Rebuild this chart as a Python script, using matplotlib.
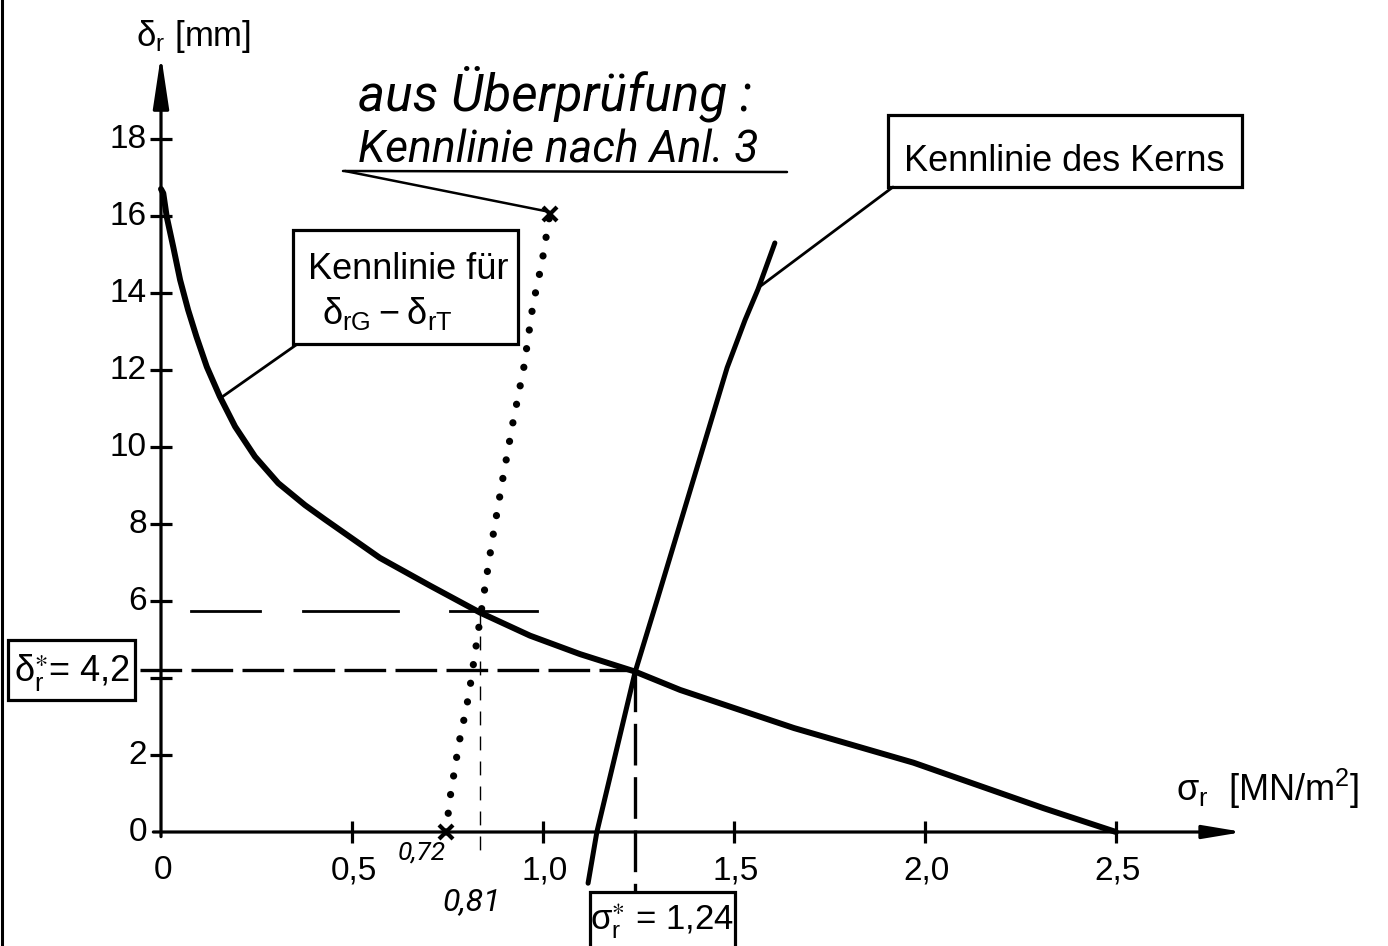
import matplotlib
matplotlib.use("Agg")
import matplotlib.pyplot as plt
from matplotlib import font_manager
from matplotlib.patches import Rectangle
from matplotlib.lines import Line2D

# Kennlinie fuer delta_rG - delta_rT (sigma_r in MN/m2, delta_r in mm)
rel_sigma = [0.0, 0.006, 0.015, 0.032, 0.05, 0.071, 0.093, 0.12, 0.154, 0.194, 0.246,
             0.307, 0.377, 0.429, 0.573, 0.704, 0.835, 0.966, 1.097, 1.24, 1.359,
             1.657, 1.97, 2.31, 2.5]
rel_delta = [16.7, 16.59, 15.98, 15.2, 14.34, 13.56, 12.86, 12.08, 11.31, 10.53, 9.75,
             9.06, 8.49, 8.12, 7.12, 6.4, 5.7, 5.1, 4.62, 4.17, 3.69,
             2.7, 1.8, 0.62, 0.0]

# Kennlinie des Kerns
core_sigma = [1.118, 1.141, 1.241, 1.298, 1.482, 1.529, 1.563, 1.607]
core_delta = [-1.33, 0.0, 4.15, 6.0, 12.06, 13.3, 14.1, 15.3]

# Kennlinie nach Anl. 3 (Ueberpruefung)
check_sigma = [0.746, 0.757, 0.780, 0.800, 0.809, 0.838, 0.859, 0.869, 0.895,
               0.921, 0.950, 0.974, 0.997, 1.018]
check_delta = [0.0, 0.91, 2.31, 3.25, 3.77, 5.71, 7.06, 7.69, 9.19,
               10.62, 12.08, 13.71, 14.78, 16.05]

sigma_star, delta_star = 1.24, 4.2
sigma_check, delta_check = 0.835, 5.75

y_ticks = [0, 2, 4, 6, 8, 10, 12, 14, 16, 18]
y_labels = ["0", "2", "", "6", "8", "10", "12", "14", "16", "18"]
x_ticks = [0.0, 0.5, 1.0, 1.5, 2.0, 2.5]
x_labels = ["0", "0,5", "1,0", "1,5", "2,0", "2,5"]

installed = {f.name for f in font_manager.fontManager.ttflist}
SANS = "Liberation Sans" if "Liberation Sans" in installed else "DejaVu Sans"
HAND = "Roboto" if "Roboto" in installed else "DejaVu Sans"
plt.rcParams["font.family"] = [SANS, "DejaVu Sans"]

# pixel -> data mapping of the drawing
X0, SX = 161, 382
Y0, SY = 832, 38.5


def P(px, py):
    return ((px - X0) / SX, (Y0 - py) / SY)


fig = plt.figure(figsize=(13.88, 9.46), dpi=100)
ax = fig.add_axes([0, 0, 1, 1])
ax.set_xlim(P(0, 0)[0], P(1388, 0)[0])
ax.set_ylim(P(0, 946)[1], P(0, 0)[1])
ax.axis("off")

fig.add_artist(Line2D([0.0018, 0.0018], [0, 1], transform=fig.transFigure, color="k", lw=2.2))

# axes with arrows
ax.annotate("", xy=(0, P(0, 55)[1]), xytext=(0, -0.12),
            arrowprops=dict(arrowstyle="-|>,head_length=1.6,head_width=0.24", lw=2.3,
                            color="k", shrinkA=0, shrinkB=0, mutation_scale=20))
ax.annotate("", xy=(P(1243, 0)[0], 0), xytext=(-0.02, 0),
            arrowprops=dict(arrowstyle="-|>,head_length=1.2,head_width=0.2", lw=2.3,
                            color="k", shrinkA=0, shrinkB=0, mutation_scale=20))

ax.plot([0] * len(y_ticks[1:]), y_ticks[1:], ls="none", marker="_", ms=16, mew=2.3, color="k")
ax.plot(x_ticks[1:], [0] * len(x_ticks[1:]), ls="none", marker="|", ms=16, mew=2.3, color="k")
for v, lab in zip(y_ticks, y_labels):
    ax.text(P(147, 0)[0], v, lab, ha="right", va="center", fontsize=24)
for v, lab in zip(x_ticks, x_labels):
    ax.text(v + 0.005, P(0, 855)[1], lab, ha="center", va="top", fontsize=24)

ax.text(*P(136, 46), r"$\mathregular{\delta_r}$ [mm]", fontsize=25, va="baseline")
ax.text(*P(1176, 801), r"$\mathregular{\sigma_r}$  [MN/m$\mathregular{^2}$]", fontsize=26,
        va="baseline")

# curves
ax.plot(rel_sigma, rel_delta, color="k", lw=4.3, solid_capstyle="round", solid_joinstyle="round")
ax.plot(core_sigma, core_delta, color="k", lw=3.6, solid_capstyle="round")
ax.plot(check_sigma, check_delta, color="k", lw=5.2, ls=(0, (0.01, 2.6)), dash_capstyle="round")
ax.plot([check_sigma[0], check_sigma[-1]], [check_delta[0], check_delta[-1]], ls="none",
        marker="x", ms=10, mew=3, color="k")

# guide lines
ax.plot([P(140, 0)[0], sigma_star], [delta_star, delta_star], color="k", lw=2.4,
        ls=(0, (12.5, 2.8)))
ax.plot([sigma_star, sigma_star], [delta_star, P(0, 893)[1]], color="k", lw=2.4,
        ls=(0, (12.5, 3.5)))
for x1, x2 in [(191, 260), (303, 398), (450, 537)]:
    ax.plot([P(x1, 0)[0], P(x2, 0)[0]], [delta_check, delta_check], color="k", lw=2.0)
ax.plot([sigma_check, sigma_check], [delta_check, P(0, 850)[1]], color="k", lw=1.0,
        ls=(0, (10, 8)))
ax.text(*P(422, 853), "0,72", ha="center", va="center", fontsize=19, family=HAND,
        style="italic")
ax.text(*P(472, 902), "0,81", ha="center", va="center", fontsize=23, family=HAND,
        style="italic")


def box(x1, y1, x2, y2):
    (a, b), (c, d) = P(x1, y2), P(x2, y1)
    ax.add_patch(Rectangle((a, b), c - a, d - b, fill=False, lw=2.3, ec="k"))


def leader(x1, y1, x2, y2, lw=2.0):
    (a, b), (c, d) = P(x1, y1), P(x2, y2)
    ax.plot([a, c], [b, d], color="k", lw=lw, solid_capstyle="round")


# Kennlinie fuer delta_rG - delta_rT
box(293, 230, 518, 344)
ax.text(*P(308, 279), "Kennlinie für", fontsize=26, va="baseline")
ax.text(*P(322, 324), r"$\mathregular{\delta_{rG} - \delta_{rT}}$", fontsize=26,
        va="baseline")
leader(296, 345, 222, 397)

# Kennlinie des Kerns
box(888, 115, 1242, 187)
ax.text(*P(1064, 171), "Kennlinie des Kerns", fontsize=26, ha="center", va="baseline")
leader(893, 187, 758, 288)

# handwritten note
ax.text(*P(358, 110), "aus Überprüfung :", fontsize=37, family=HAND, style="italic",
        va="baseline")
ax.text(*P(358, 162), "Kennlinie nach Anl. 3", fontsize=32, family=HAND, style="italic",
        va="baseline")
leader(343, 171, 787, 172, lw=1.8)
leader(345, 171, 550, 212, lw=1.8)

# result boxes
box(8, 640, 135, 700)
ax.text(*P(72, 672), r"$\mathregular{\delta_r^{\ast}}$= 4,2", fontsize=26,
        ha="center", va="center")
box(590, 892, 735, 952)
ax.text(*P(662, 922), r"$\mathregular{\sigma_r^{\ast}}$ = 1,24", fontsize=25,
        ha="center", va="center")

fig.savefig("out.png", dpi=100, facecolor="white")
